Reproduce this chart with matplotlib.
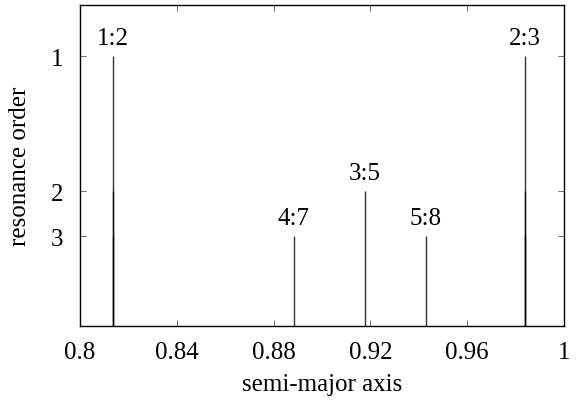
import numpy as np
import matplotlib
matplotlib.use('Agg')
import matplotlib.pyplot as plt

plt.rcParams['font.family'] = ['Liberation Serif', 'DejaVu Serif']
plt.rcParams['font.size'] = 18

# resonances: label, semi-major axis, order (p:q -> order q-p)
res_labels = ['1:2', '4:7', '3:5', '5:8', '2:3']
res_a = [0.8136, 0.8884, 0.9178, 0.9429, 0.9839]
res_order = [1, 3, 2, 3, 1]

# higher multiples sitting on the same spot (2:4, 3:6, 4:6, 6:9)
harm_a = [0.8136, 0.8136, 0.9839, 0.9839]
harm_order = [2, 3, 2, 3]

order_ticks = [1, 2, 3]
x_ticks = [0.8, 0.84, 0.88, 0.92, 0.96, 1.0]
x_ticklabels = ['0.8', '0.84', '0.88', '0.92', '0.96', '1']

fig = plt.figure(figsize=(5.8, 4.06), dpi=100)
ax = fig.add_axes([0.138, 0.1946, 0.8344, 0.7906])

h = 1.0 / np.array(res_order)
ax.vlines(res_a, 0, h, color='black', lw=1.0, alpha=0.8)
ax.vlines(harm_a, 0, 1.0 / np.array(harm_order), color='black', lw=1.0, alpha=0.8)

for lab, a, hh in zip(res_labels, res_a, h):
    ax.annotate(lab, (a, hh), xytext=(0, 5), textcoords='offset points',
                ha='center', va='bottom')

ax.set_xlim(0.8, 1.0)
ax.set_ylim(0, 1.19)
ax.set_xticks(x_ticks)
ax.set_xticklabels(x_ticklabels)
ax.set_yticks(1.0 / np.array(order_ticks))
ax.set_yticklabels([str(o) for o in order_ticks])
ax.tick_params(direction='in', length=4, width=0.6, top=True, right=True,
               color='#555555')
ax.tick_params(axis='x', pad=11)
ax.tick_params(axis='y', pad=12)
for s in ax.spines.values():
    s.set_linewidth(1.0)

ax.set_xlabel('semi-major axis', labelpad=7)
ax.set_ylabel('resonance order', labelpad=14)

fig.savefig('out.png', dpi=100)
